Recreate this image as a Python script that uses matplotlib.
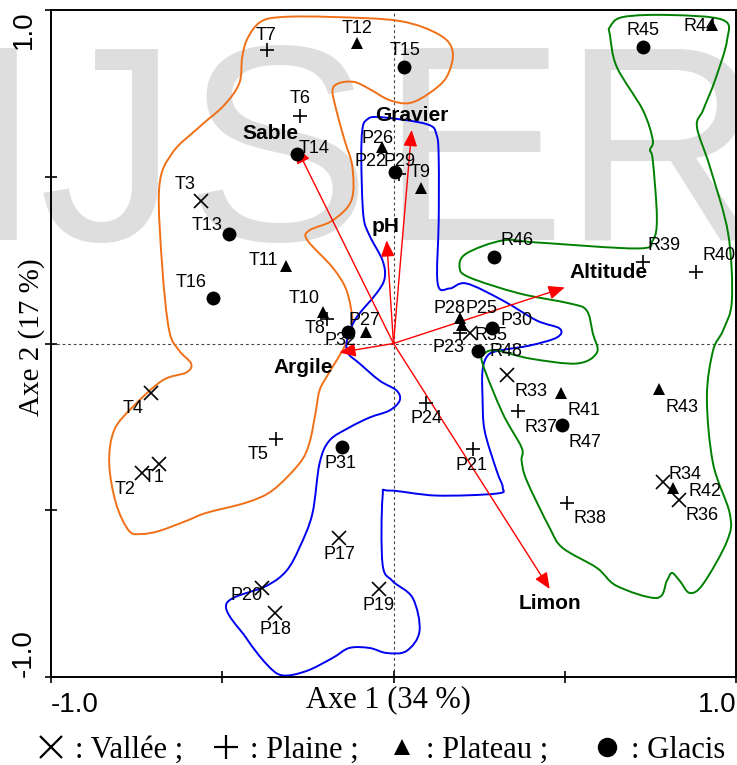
import numpy as np
import matplotlib
matplotlib.use("Agg")
from matplotlib import pyplot as plt
from matplotlib.path import Path
from matplotlib.patches import PathPatch
from matplotlib.lines import Line2D

# ---- sites (scores on axis 1 / axis 2) ----
sites_T = ['T1', 'T2', 'T3', 'T4', 'T5', 'T6', 'T7', 'T8',
           'T9', 'T10', 'T11', 'T12', 'T13', 'T14', 'T15', 'T16']
axe1_T = [-0.684, -0.734, -0.561, -0.708, -0.342, -0.272, -0.368, -0.193,
          0.079, -0.205, -0.313, -0.108, -0.480, -0.281, 0.032, -0.526]
axe2_T = [-0.360, -0.387, 0.426, -0.147, -0.285, 0.682, 0.880, 0.072,
          0.465, 0.093, 0.231, 0.901, 0.327, 0.568, 0.829, 0.135]

sites_P = ['P17', 'P18', 'P19', 'P20', 'P21', 'P22', 'P23', 'P24',
           'P25', 'P26', 'P27', 'P28', 'P29', 'P30', 'P31', 'P32']
axe1_P = [-0.158, -0.345, -0.041, -0.383, 0.231, 0.015, 0.193, 0.096,
          0.199, -0.035, -0.079, 0.193, 0.003, 0.289, -0.149, -0.134]
axe2_P = [-0.583, -0.808, -0.736, -0.733, -0.315, 0.508, 0.030, -0.177,
          0.054, 0.589, 0.033, 0.075, 0.514, 0.045, -0.309, 0.033]

sites_R = ['R33', 'R34', 'R35', 'R36', 'R37', 'R38', 'R39', 'R40',
           'R41', 'R42', 'R43', 'R44', 'R45', 'R46', 'R47', 'R48']
axe1_R = [0.330, 0.787, 0.222, 0.833, 0.363, 0.506, 0.728, 0.883,
          0.488, 0.816, 0.775, 0.930, 0.728, 0.292, 0.491, 0.246]
axe2_R = [-0.093, -0.414, 0.030, -0.468, -0.201, -0.477, 0.243, 0.213,
          -0.147, -0.432, -0.135, 0.955, 0.889, 0.258, -0.243, -0.021]

# landform of each site, same order in every group
relief = ['Vallée', 'Vallée', 'Vallée', 'Vallée',
          'Plaine', 'Plaine', 'Plaine', 'Plaine',
          'Plateau', 'Plateau', 'Plateau', 'Plateau',
          'Glacis', 'Glacis', 'Glacis', 'Glacis']

# ---- variables (arrows) ----
variables = ['Sable', 'Gravier', 'pH', 'Altitude', 'Argile', 'Limon']
var_axe1 = [-0.284, 0.053, -0.020, 0.500, -0.158, 0.456]
var_axe2 = [0.589, 0.640, 0.309, 0.168, -0.027, -0.736]

# ---- group outlines (hand drawn envelopes) ----
contour_T = [(-0.389, 0.964), (-0.325, 0.979), (-0.178, 0.979), (0.018, 0.967),
             (0.135, 0.925), (0.173, 0.874), (0.155, 0.799), (0.105, 0.751),
             (0.047, 0.721), (-0.012, 0.730), (-0.070, 0.763), (-0.114, 0.784),
             (-0.158, 0.781), (-0.178, 0.760), (-0.167, 0.700), (-0.143, 0.610),
             (-0.120, 0.529), (-0.123, 0.429), (-0.178, 0.369), (-0.246, 0.339),
             (-0.251, 0.309), (-0.178, 0.228), (-0.137, 0.159), (-0.120, 0.069),
             (-0.129, 0.024), (-0.149, -0.021), (-0.170, -0.057), (-0.193, -0.096),
             (-0.216, -0.141), (-0.228, -0.210), (-0.246, -0.300), (-0.275, -0.360),
             (-0.354, -0.441), (-0.430, -0.477), (-0.547, -0.508), (-0.605, -0.532),
             (-0.684, -0.562), (-0.734, -0.571), (-0.772, -0.562), (-0.810, -0.480),
             (-0.830, -0.360), (-0.816, -0.261), (-0.763, -0.192), (-0.675, -0.111),
             (-0.605, -0.087), (-0.591, -0.060), (-0.626, -0.021), (-0.655, 0.039),
             (-0.675, 0.228), (-0.684, 0.468), (-0.646, 0.571), (-0.567, 0.649),
             (-0.494, 0.715), (-0.450, 0.781), (-0.442, 0.856), (-0.427, 0.913)]

contour_P = [(-0.079, 0.670), (-0.041, 0.679), (0.096, 0.658), (0.126, 0.625),
             (0.132, 0.550), (0.132, 0.369), (0.129, 0.180), (0.164, 0.165),
             (0.213, 0.180), (0.319, 0.129), (0.418, 0.069), (0.485, 0.045),
             (0.477, 0.018), (0.398, -0.006), (0.310, -0.021), (0.275, -0.036),
             (0.260, -0.081), (0.260, -0.162), (0.266, -0.261), (0.301, -0.381),
             (0.319, -0.432), (0.301, -0.450), (0.126, -0.456), (-0.012, -0.441),
             (-0.032, -0.462), (-0.032, -0.661), (-0.003, -0.712), (0.056, -0.763),
             (0.076, -0.862), (0.038, -0.922), (-0.020, -0.928), (-0.070, -0.913),
             (-0.129, -0.913), (-0.178, -0.943), (-0.254, -0.982), (-0.325, -0.995),
             (-0.371, -0.961), (-0.430, -0.883), (-0.488, -0.781), (-0.371, -0.727),
             (-0.313, -0.682), (-0.275, -0.613), (-0.237, -0.511), (-0.216, -0.360),
             (-0.187, -0.291), (-0.129, -0.252), (-0.070, -0.222), (-0.012, -0.201),
             (0.018, -0.171), (0.009, -0.141), (-0.041, -0.111), (-0.099, -0.060),
             (-0.134, -0.027), (-0.134, 0.018), (-0.108, 0.078), (-0.050, 0.150),
             (-0.026, 0.195), (-0.032, 0.249), (-0.070, 0.324), (-0.088, 0.384),
             (-0.094, 0.550), (-0.091, 0.640)]

contour_R = [(0.632, 0.949), (0.670, 0.979), (0.807, 0.985), (0.962, 0.970),
             (0.974, 0.910), (0.939, 0.790), (0.904, 0.700), (0.886, 0.649),
             (0.924, 0.529), (0.977, 0.330), (0.988, 0.129), (0.962, 0.039),
             (0.933, -0.021), (0.915, -0.162), (0.933, -0.360), (0.982, -0.511),
             (0.974, -0.592), (0.904, -0.721), (0.865, -0.748), (0.836, -0.712),
             (0.813, -0.688), (0.798, -0.712), (0.769, -0.763), (0.652, -0.727),
             (0.594, -0.673), (0.494, -0.613), (0.456, -0.553), (0.389, -0.411),
             (0.374, -0.351), (0.374, -0.312), (0.319, -0.210), (0.260, -0.060),
             (0.266, -0.030), (0.301, -0.021), (0.398, -0.045), (0.535, -0.060),
             (0.594, -0.027), (0.582, 0.030), (0.564, 0.099), (0.515, 0.120),
             (0.368, 0.150), (0.222, 0.198), (0.193, 0.228), (0.213, 0.270),
             (0.319, 0.309), (0.418, 0.303), (0.711, 0.285), (0.757, 0.309),
             (0.769, 0.378), (0.757, 0.550), (0.749, 0.580), (0.757, 0.610),
             (0.728, 0.700), (0.652, 0.829), (0.632, 0.925)]

# label offsets in pixels (dx right, dy down) from the marker
label_offset = {
    'T1': (-5, 14), 'T2': (-17, 17), 'T3': (-16, -17), 'T4': (-18, 16),
    'T5': (-18, 16), 'T6': (0, -18), 'T7': (-1, -15), 'T8': (-12, 9),
    'T9': (0, -16), 'T10': (-19, -14), 'T11': (-23, -6), 'T12': (1, -15),
    'T13': (-22, -9), 'T14': (17, -6), 'T15': (1, -17), 'T16': (-22, -16),
    'P17': (0, 17), 'P18': (0, 17), 'P19': (-1, 17), 'P20': (-16, 8),
    'P21': (-1, 17), 'P22': (-28, -13), 'P23': (-11, 14), 'P24': (0, 16),
    'P25': (20, -17), 'P26': (-4, -9), 'P27': (-2, -12), 'P28': (-10, -10),
    'P29': (5, -11), 'P30': (24, -8), 'P31': (-2, 17), 'P32': (-7, 8),
    'R33': (24, 17), 'R34': (22, -7), 'R35': (21, 2), 'R36': (23, 16),
    'R37': (23, 17), 'R38': (23, 16), 'R39': (21, -17), 'R40': (23, -17),
    'R41': (23, 18), 'R42': (32, 4), 'R43': (23, 19), 'R44': (-12, 1),
    'R45': (0, -17), 'R46': (24, -17), 'R47': (23, 18), 'R48': (28, 1),
}
var_offset = {'Sable': (-26, -14), 'Gravier': (0, -15), 'pH': (-1, -14),
              'Altitude': (44, -15), 'Argile': (-36, 15), 'Limon': (0, 15)}

marker_style = {
    'Vallée': dict(marker='x', ms=9.5, mew=1.2),
    'Plaine': dict(marker='+', ms=10.5, mew=1.2),
    'Plateau': dict(marker='^', ms=8.5, mew=0),
    'Glacis': dict(marker='o', ms=10, mew=0),
}


def smooth_closed(pts):
    """closed Catmull-Rom outline drawn as cubic Bezier path"""
    p = np.asarray(pts, float)
    n = len(p)
    verts = [p[0]]
    codes = [Path.MOVETO]
    for i in range(n):
        p0, p1, p2, p3 = p[i - 1], p[i], p[(i + 1) % n], p[(i + 2) % n]
        verts += [p1 + (p2 - p0) / 6.0, p2 - (p3 - p1) / 6.0, p2]
        codes += [Path.CURVE4] * 3
    return Path(verts, codes)


px2pt = 72.0 / 100.0

fig = plt.figure(figsize=(7.37, 7.65), dpi=100)
fig.patch.set_facecolor('white')

# watermark behind the chart
for letter, cx in zip('IJSER', [3, 108, 277, 472, 662]):
    fig.text(cx / 737.0, 1 - 240 / 765.0, letter, ha='center', va='baseline',
             fontsize=201, family='Liberation Sans', color='#dedede', zorder=-5)

ax = fig.add_axes([51 / 737.0, 88 / 765.0, 685 / 737.0, 667 / 765.0])
ax.patch.set_visible(False)
ax.set_xlim(-1, 1)
ax.set_ylim(-1, 1)

ax.axhline(0, color='#444444', lw=0.8, dashes=(2.5, 2.5), zorder=1)
ax.axvline(0, color='#444444', lw=0.8, dashes=(2.5, 2.5), zorder=1)

# group envelopes
for contour, col in [(contour_T, '#f07018'), (contour_P, '#0000f0'),
                     (contour_R, '#008000')]:
    ax.add_patch(PathPatch(smooth_closed(contour), fill=False, edgecolor=col,
                           lw=1.4, zorder=2))

# variable arrows
for name, vx, vy in zip(variables, var_axe1, var_axe2):
    ax.annotate('', xy=(vx, vy), xytext=(0, 0),
                arrowprops=dict(arrowstyle='-|>,head_length=0.7,head_width=0.3',
                                color='#ff0000', lw=1.0, shrinkA=0, shrinkB=0,
                                mutation_scale=14), zorder=2.5)
    dx, dy = var_offset[name]
    ax.annotate(name, xy=(vx, vy), xytext=(dx * px2pt, -dy * px2pt),
                textcoords='offset points', ha='center', va='center',
                fontsize=15, fontweight='bold', family='Liberation Sans',
                zorder=3)

# sites
for names, xs, ys in [(sites_T, axe1_T, axe2_T), (sites_P, axe1_P, axe2_P),
                      (sites_R, axe1_R, axe2_R)]:
    for name, x, y, rel in zip(names, xs, ys, relief):
        ax.plot(x, y, ls='none', color='black', zorder=4, **marker_style[rel])
        dx, dy = label_offset[name]
        ax.annotate(name, xy=(x, y), xytext=(dx * px2pt, -dy * px2pt),
                    textcoords='offset points', ha='center', va='center',
                    fontsize=13, family='Liberation Sans', zorder=3)

# frame and ticks
for sp in ax.spines.values():
    sp.set_linewidth(1.4)
ax.set_xticks([-1, -0.5, 0, 0.5, 1])
ax.set_xticklabels(['-1.0', '', '', '', '1.0'])
ax.set_yticks([-1, -0.5, 0, 0.5, 1])
ax.set_yticklabels(['-1.0', '', '', '', '1.0'], rotation=90)
ax.tick_params(direction='inout', length=9, width=1.2, labelsize=20, pad=6)
for t in ax.get_xticklabels() + ax.get_yticklabels():
    t.set_family('Liberation Sans')
xl = ax.get_xticklabels()
xl[0].set_ha('left')
xl[-1].set_ha('right')
yl = ax.get_yticklabels()
yl[0].set_va('bottom')
yl[-1].set_va('top')

ax.set_xlabel('Axe 1 (34 %)', family='Liberation Serif', fontsize=22)
ax.xaxis.set_label_coords(0.492, -0.012)
ax.set_ylabel('Axe 2 (17 %)', family='Liberation Serif', fontsize=21)
ax.yaxis.set_label_coords(-0.009, 0.51)

# legend line at the bottom
handles = [Line2D([], [], ls='none', color='black', marker='x', ms=16, mew=1.6),
           Line2D([], [], ls='none', color='black', marker='+', ms=17, mew=1.6),
           Line2D([], [], ls='none', color='black', marker='^', ms=12, mew=0),
           Line2D([], [], ls='none', color='black', marker='o', ms=14, mew=0)]
fig.legend(handles, [': Vallée ;', ': Plaine ;', ': Plateau ;  ', ': Glacis'],
           loc='center', bbox_to_anchor=(0.516, 0.0196), ncol=4, frameon=False,
           prop=dict(family='Liberation Serif', size=22), handlelength=1.0,
           handletextpad=0.3, columnspacing=0.9, borderpad=0, borderaxespad=0)

fig.savefig('out.png', dpi=100)
